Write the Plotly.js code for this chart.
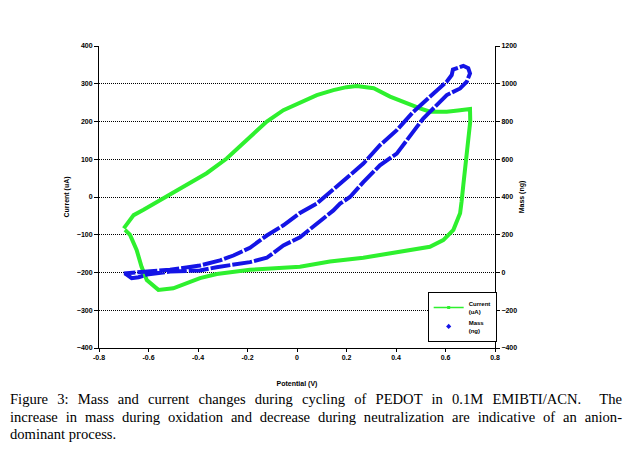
<!DOCTYPE html>
<html>
<head>
<meta charset="utf-8">
<script src="https://cdn.plot.ly/plotly-3.0.1.min.js"></script>
<style>
  html, body { margin:0; padding:0; background:#fff; }
  #wrap { position:relative; width:624px; height:449px; overflow:hidden; }
  #chart { position:absolute; left:0; top:0; width:624px; height:449px; }
  #caption { position:absolute; left:10px; top:391px; width:612px;
    font-family:"Liberation Serif","Times New Roman",serif; font-size:14.6px; line-height:17.6px; color:#000; }
  #caption div { text-align:justify; text-align-last:justify; white-space:nowrap; }
  #caption div.last { text-align-last:left; }
</style>
</head>
<body>
<div id="wrap">
  <div id="chart"></div>
  <div id="caption">
    <div>Figure 3: Mass and current changes during cycling of PEDOT in 0.1M EMIBTI/ACN.&nbsp; The</div>
    <div>increase in mass during oxidation and decrease during neutralization are indicative of an anion-</div>
    <div class="last">dominant process.</div>
  </div>
</div>
<script>
// Current (uA) vs potential (V) - cyclic voltammogram
const currentV = [-0.700,-0.675,-0.660,-0.620,-0.553,-0.527,-0.419,-0.365,-0.284,-0.190,-0.122,-0.055,0.012,0.080,0.147,0.200,0.241,0.310,0.376,0.443,0.497,0.537,0.605,0.650,0.699,0.700,0.686,0.672,0.665,0.659,0.632,0.591,0.537,0.403,0.268,0.133,0.012,-0.190,-0.324,-0.392,-0.446,-0.500,-0.560,-0.607,-0.628,-0.648,-0.675,-0.695];
const currentI = [-83,-61,-48,-34,-8,1,41,63,102,160,200,230,251,270,283,291,294,288,266,248,235,226,226,229,233,200,102,32,-12,-43,-87,-114,-132,-147,-161,-171,-185,-193,-204,-215,-229,-242,-246,-220,-185,-140,-100,-87];

// Mass (ng) vs potential (V)
const massV = [-0.695,-0.668,-0.640,-0.607,-0.513,-0.392,-0.325,-0.257,-0.190,-0.122,-0.055,0.012,0.080,0.147,0.174,0.214,0.268,0.335,0.403,0.443,0.510,0.537,0.605,0.659,0.686,0.699,0.692,0.672,0.630,0.625,0.605,0.537,0.470,0.403,0.335,0.268,0.200,0.147,0.080,0.012,-0.055,-0.122,-0.190,-0.257,-0.311,-0.392,-0.513,-0.607,-0.680,-0.700];
const massM = [-5,-30,-25,-11,5,11,28,41,55,78,143,187,258,329,365,400,479,568,630,701,816,851,940,975,1011,1055,1082,1095,1075,1046,1011,931,851,754,674,577,497,440,365,315,250,196,131,90,64,37,15,5,0,-5];

const xTicks = [-0.8,-0.6,-0.4,-0.2,0,0.2,0.4,0.6,0.8];
const xTickText = ['-0.8','-0.6','-0.4','-0.2','0','0.2','0.4','0.6','0.8'];

const green = '#2ef02e';
const blue = '#1414e6';

const traces = [
  { x: currentV, y: currentI, type:'scatter', mode:'lines', yaxis:'y',
    line:{color:green, width:4}, showlegend:false },
  { x: massV, y: massM, type:'scatter', mode:'lines', yaxis:'y2',
    line:{color:blue, width:4, dash:'20px,2px'}, showlegend:false },
  { x:[null], y:[null], type:'scatter', mode:'lines+markers', name:'Current<br>(uA)',
    line:{color:green, width:1.5}, marker:{symbol:'square', size:3, color:green} },
  { x:[null], y:[null], type:'scatter', mode:'markers', name:'Mass<br>(ng)', yaxis:'y2',
    marker:{symbol:'diamond', size:4, color:blue} }
];

const tickFont = {family:'Liberation Sans, Arial, sans-serif', size:7, color:'#000', weight:'bold'};

const layout = {
  width:624, height:449,
  margin:{l:99, r:129, t:46, b:101, pad:0},
  paper_bgcolor:'#fff', plot_bgcolor:'#fff',
  showlegend:true,
  legend:{x:0.83, y:0.02, xanchor:'left', yanchor:'bottom', bgcolor:'#fff',
    bordercolor:'#000', borderwidth:1, font:{family:'Liberation Sans, Arial, sans-serif', size:6, color:'#000', weight:'bold'},
    itemwidth:30, tracegroupgap:0},
  xaxis:{range:[-0.8,0.8], tickvals:xTicks, ticktext:xTickText, showgrid:false, zeroline:false,
    showline:true, linecolor:'#000', linewidth:1, ticks:'outside', ticklen:3, tickcolor:'#000',
    tickfont:tickFont, mirror:false,
    title:{text:'Potential (V)', font:tickFont, standoff:20}},
  yaxis:{range:[-400,400], dtick:100, showgrid:true, gridcolor:'#000', gridwidth:1, griddash:'1px,1px',
    zeroline:false, showline:true, linecolor:'#000', linewidth:1, ticks:'outside', ticklen:4, tickcolor:'#000',
    tickfont:tickFont, title:{text:'Current (uA)', font:tickFont, standoff:6}},
  yaxis2:{range:[-400,1200], dtick:200, overlaying:'y', side:'right', showgrid:false, zeroline:false,
    showline:true, linecolor:'#000', linewidth:1, ticks:'outside', ticklen:4, tickcolor:'#000',
    tickfont:tickFont, title:{text:'Mass (ng)', font:tickFont, standoff:2}}
};

Plotly.newPlot('chart', traces, layout, {staticPlot:true, displayModeBar:false});
</script>
</body>
</html>
